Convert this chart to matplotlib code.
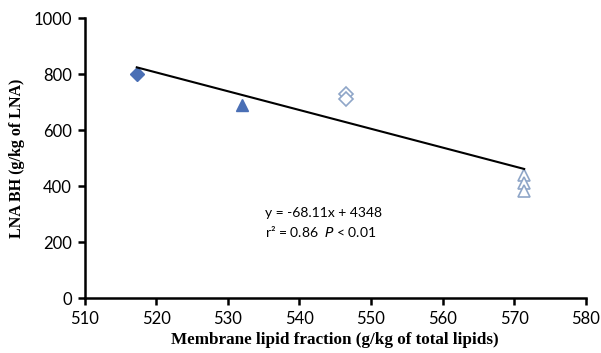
import matplotlib
matplotlib.use('Agg')
import matplotlib.pyplot as plt

# data
filled_diamond_x = [517.3]
filled_diamond_y = [800]
filled_triangle_x = [532.0]
filled_triangle_y = [690]
open_diamond_x = [546.5, 546.5]
open_diamond_y = [728, 710]
open_triangle_x = [571.4, 571.4, 571.4]
open_triangle_y = [438, 410, 382]
fit_x = [517.3, 571.4]
fit_y = [824, 461]

x_ticks = [510, 520, 530, 540, 550, 560, 570, 580]
y_ticks = [0, 200, 400, 600, 800, 1000]

fill_col = '#4A6FB5'
open_col = '#8FA6C8'

fig = plt.figure(figsize=(6.01, 3.53), dpi=100)
ax = fig.add_axes([0.1406, 0.1558, 0.834, 0.793])

ax.plot(fit_x, fit_y, color='black', lw=1.5, zorder=3)
ax.plot(filled_diamond_x, filled_diamond_y, 'D', color=fill_col, ms=7.5, zorder=2)
ax.plot(filled_triangle_x, filled_triangle_y, '^', color=fill_col, ms=9, zorder=2)
ax.plot(open_diamond_x, open_diamond_y, 'D', mfc='white', mec=open_col, mew=1.2, ms=7.5, zorder=2)
ax.plot(open_triangle_x, open_triangle_y, '^', mfc='white', mec=open_col, mew=1.2, ms=9, zorder=2)

ax.set_xlim(510, 580)
ax.set_ylim(0, 1000)
ax.set_xticks(x_ticks)
ax.set_yticks(y_ticks)

for s in ['top', 'right']:
    ax.spines[s].set_visible(False)
for s in ['left', 'bottom']:
    ax.spines[s].set_linewidth(1.8)
ax.tick_params(direction='out', length=5, width=1.8, labelsize=12, pad=4)
for lab in ax.get_xticklabels() + ax.get_yticklabels():
    lab.set_family('Lato')

ax.set_xlabel('Membrane lipid fraction (g/kg of total lipids)', family='Liberation Serif',
              fontweight='bold', fontsize=12.3, labelpad=4)
ax.set_ylabel('LNA BH (g/kg of LNA)', family='Liberation Serif',
              fontweight='bold', fontsize=11.5, labelpad=6)

ax.text(535.2, 304, 'y = -68.11x + 4348', family='Lato', fontsize=10, va='center')
ax.text(535.2, 236, 'r\u00b2 = 0.86  $\\it{P}$ < 0.01', family='Lato', fontsize=10, va='center')

fig.savefig('out.png', dpi=100)
